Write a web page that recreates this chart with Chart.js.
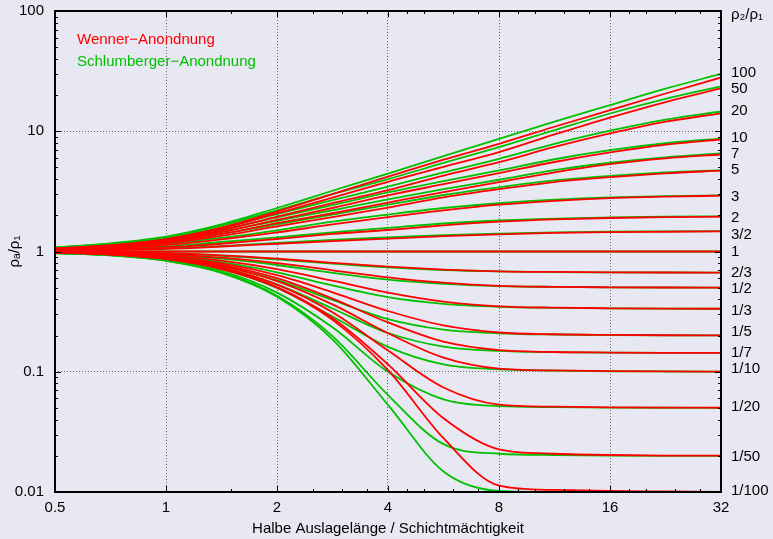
<!DOCTYPE html>
<html><head><meta charset="utf-8">
<script src="https://cdn.jsdelivr.net/npm/chart.js@4.4.0/dist/chart.umd.min.js"></script>
<style>html,body{margin:0;padding:0;background:#e8e8f2;}canvas{display:block;}</style>
</head><body>
<canvas id="c" width="773" height="539"></canvas>
<script>
// x sample positions (half spread / layer thickness)
const X = [0.5, 0.707, 1, 1.414, 2, 2.828, 4, 5.657, 8, 11.31, 16, 22.63, 32];

// Schlumberger (green) and Wenner (red) apparent resistivity ratios
const S100 = [1.08, 1.17, 1.33, 1.68, 2.3, 3.2, 4.45, 6.2, 8.65, 12.0, 16.5, 22.6, 30.0];
const W100 = [1.06, 1.13, 1.27, 1.58, 2.15, 3.0, 4.2, 5.8, 7.86, 10.9, 15.0, 20.6, 28.0];
const S50 = [1.075, 1.16, 1.31, 1.64, 2.2, 3.0, 4.0, 5.45, 7.37, 10.2, 14.05, 18.6, 23.6];
const W50 = [1.055, 1.12, 1.26, 1.55, 2.08, 2.8, 3.8, 5.05, 6.7, 9.4, 13.0, 17.5, 22.7];
const S20 = [1.07, 1.14, 1.28, 1.58, 2.05, 2.68, 3.46, 4.55, 5.9, 7.85, 10.1, 12.5, 14.6];
const W20 = [1.05, 1.11, 1.24, 1.5, 1.95, 2.52, 3.24, 4.28, 5.53, 7.4, 9.58, 12.0, 14.1];
const S10 = [1.065, 1.13, 1.25, 1.52, 1.92, 2.43, 3.1, 3.85, 4.72, 5.85, 6.96, 7.95, 8.7];
const W10 = [1.045, 1.10, 1.21, 1.45, 1.83, 2.3, 2.93, 3.63, 4.48, 5.55, 6.66, 7.75, 8.54];
const S7 = [1.06, 1.12, 1.23, 1.46, 1.8, 2.2, 2.71, 3.3, 3.95, 4.75, 5.47, 6.07, 6.53];
const W7 = [1.04, 1.09, 1.19, 1.4, 1.72, 2.08, 2.55, 3.12, 3.77, 4.55, 5.32, 5.95, 6.41];
const S5 = [1.055, 1.11, 1.21, 1.4, 1.68, 2.03, 2.45, 2.95, 3.42, 3.9, 4.25, 4.55, 4.75];
const W5 = [1.04, 1.08, 1.17, 1.35, 1.62, 1.93, 2.32, 2.82, 3.30, 3.78, 4.15, 4.47, 4.70];
const S3 = [1.04, 1.08, 1.16, 1.3, 1.5, 1.77, 2.03, 2.3, 2.52, 2.7, 2.82, 2.89, 2.93];
const W3 = [1.03, 1.06, 1.13, 1.26, 1.44, 1.68, 1.93, 2.2, 2.45, 2.64, 2.78, 2.86, 2.91];
const S2 = [1.025, 1.05, 1.1, 1.2, 1.31, 1.44, 1.57, 1.71, 1.81, 1.88, 1.92, 1.95, 1.96];
const W2 = [1.02, 1.04, 1.08, 1.16, 1.27, 1.4, 1.51, 1.65, 1.77, 1.85, 1.90, 1.93, 1.95];
const S3_2 = [1.015, 1.03, 1.06, 1.11, 1.18, 1.25, 1.31, 1.37, 1.41, 1.44, 1.46, 1.47, 1.48];
const W3_2 = [1.01, 1.025, 1.05, 1.1, 1.16, 1.22, 1.28, 1.34, 1.39, 1.43, 1.45, 1.46, 1.47];
const S1 = [1, 1, 1, 1, 1, 1, 1, 1, 1, 1, 1, 1, 1];
const W1 = [1, 1, 1, 1, 1, 1, 1, 1, 1, 1, 1, 1, 1];
const S2_3 = [0.99, 0.984, 0.962, 0.922, 0.86, 0.792, 0.737, 0.702, 0.684, 0.675, 0.671, 0.669, 0.668];
const W2_3 = [0.995, 0.987, 0.968, 0.93, 0.872, 0.805, 0.748, 0.708, 0.684, 0.676, 0.671, 0.669, 0.668];
const S1_2 = [0.987, 0.973, 0.938, 0.872, 0.772, 0.665, 0.584, 0.538, 0.516, 0.508, 0.504, 0.502, 0.501];
const W1_2 = [0.992, 0.978, 0.948, 0.89, 0.8, 0.698, 0.61, 0.55, 0.517, 0.508, 0.504, 0.502, 0.5015];
const S1_3 = [0.983, 0.962, 0.91, 0.815, 0.672, 0.522, 0.417, 0.367, 0.347, 0.34, 0.337, 0.335, 0.334];
const W1_3 = [0.988, 0.969, 0.925, 0.84, 0.715, 0.572, 0.455, 0.383, 0.35, 0.341, 0.337, 0.335, 0.334];
const S1_5 = [0.978, 0.951, 0.883, 0.76, 0.578, 0.395, 0.274, 0.224, 0.209, 0.204, 0.2022, 0.2011, 0.2005];
const W1_5 = [0.985, 0.959, 0.903, 0.796, 0.636, 0.458, 0.32, 0.243, 0.212, 0.205, 0.2025, 0.2012, 0.2006];
const S1_7 = [0.975, 0.945, 0.871, 0.733, 0.533, 0.336, 0.21, 0.162, 0.149, 0.1455, 0.1443, 0.1437, 0.1433];
const W1_7 = [0.983, 0.955, 0.892, 0.775, 0.6, 0.406, 0.257, 0.178, 0.151, 0.146, 0.1445, 0.1438, 0.1434];
const S1_10 = [0.973, 0.94, 0.86, 0.712, 0.498, 0.288, 0.161, 0.115, 0.1045, 0.1022, 0.101, 0.1005, 0.1002];
const W1_10 = [0.981, 0.951, 0.884, 0.757, 0.568, 0.363, 0.209, 0.131, 0.106, 0.1025, 0.1012, 0.1006, 0.1003];
const S1_20 = [0.97, 0.934, 0.848, 0.686, 0.455, 0.234, 0.1, 0.059, 0.0518, 0.0508, 0.0504, 0.0502, 0.0501];
const W1_20 = [0.98, 0.947, 0.873, 0.734, 0.53, 0.312, 0.15, 0.074, 0.0533, 0.0512, 0.0506, 0.0503, 0.0502];
const S1_50 = [0.968, 0.93, 0.84, 0.67, 0.428, 0.198, 0.064, 0.025, 0.0208, 0.0203, 0.0201, 0.02, 0.02];
const W1_50 = [0.978, 0.944, 0.867, 0.72, 0.507, 0.28, 0.115, 0.041, 0.0226, 0.0208, 0.0203, 0.0201, 0.0201];
const S1_100 = [0.966, 0.928, 0.836, 0.663, 0.42, 0.186, 0.053, 0.0148, 0.0102, 0.01, 0.01, 0.01, 0.01];
const W1_100 = [0.978, 0.942, 0.864, 0.715, 0.5, 0.27, 0.103, 0.028, 0.0113, 0.0104, 0.0102, 0.0101, 0.01];

const ratioNames = ['100','50','20','10','7','5','3','2','3/2','1','2/3','1/2','1/3','1/5','1/7','1/10','1/20','1/50','1/100'];
const schlumberger = [S100,S50,S20,S10,S7,S5,S3,S2,S3_2,S1,S2_3,S1_2,S1_3,S1_5,S1_7,S1_10,S1_20,S1_50,S1_100];
const wenner = [W100,W50,W20,W10,W7,W5,W3,W2,W3_2,W1,W2_3,W1_2,W1_3,W1_5,W1_7,W1_10,W1_20,W1_50,W1_100];

// axis ticks
const xTickValues = [0.5, 1, 2, 4, 8, 16, 32];
const xMinorValues = [1.5, 2.5, 3, 3.5, 4.5, 5, 6, 7, 9, 10, 12, 14, 18, 20, 24, 28];
const yTickValues = [0.01, 0.1, 1, 10, 100];
const yTickLabels = ['0.01', '0.1', '1', '10', '100'];
const yMinorValues = [];
[0.01, 0.1, 1, 10].forEach(d => { for (let m = 2; m <= 9; m++) yMinorValues.push(d * m); });
// right-hand ratio labels and the values they sit at
const rightLabels = ['ρ₂/ρ₁','100','50','20','10','7','5','3','2','3/2','1','2/3','1/2','1/3','1/5','1/7','1/10','1/20','1/50','1/100'];
const rightLabelAt = [92.6, 30.5, 22.5, 14.7, 8.79, 6.47, 4.76, 2.84, 1.90, 1.37, 1.0, 0.663, 0.488, 0.32, 0.214, 0.143, 0.105, 0.0509, 0.0195, 0.0102];

const legendTexts = ['Wenner−Anondnung', 'Schlumberger−Anondnung'];
const RED = '#ff0000', GREEN = '#00c000';
const FONT = '"Liberation Sans", Arial, Helvetica, sans-serif';

const datasets = [];
ratioNames.forEach((r, i) => {
  datasets.push({ label: 'Schlumberger ' + r, data: X.map((x, j) => ({ x: x, y: schlumberger[i][j] })), borderColor: GREEN, order: 2 });
  datasets.push({ label: 'Wenner ' + r, data: X.map((x, j) => ({ x: x, y: wenner[i][j] })), borderColor: RED, order: 1 });
});

const frameTicks = {
  id: 'frameTicks',
  afterDatasetsDraw(chart) {
    const { ctx, chartArea: a, scales } = chart;
    const sx = scales.x, sy = scales.y;
    ctx.save();
    ctx.strokeStyle = '#000';
    ctx.lineWidth = 1;
    ctx.beginPath();
    const vt = (v, len) => { const p = Math.round(sx.getPixelForValue(v)) + 0.5; ctx.moveTo(p, a.bottom); ctx.lineTo(p, a.bottom - len); ctx.moveTo(p, a.top); ctx.lineTo(p, a.top + len); };
    const ht = (v, len) => { const p = Math.round(sy.getPixelForValue(v)) + 0.5; ctx.moveTo(a.left, p); ctx.lineTo(a.left + len, p); ctx.moveTo(a.right, p); ctx.lineTo(a.right - len, p); };
    xTickValues.forEach(v => vt(v, 6));
    xMinorValues.forEach(v => vt(v, 3));
    yTickValues.forEach(v => ht(v, 6));
    yMinorValues.forEach(v => ht(v, 3));
    ctx.stroke();
    ctx.lineWidth = 2;
    ctx.strokeRect(a.left, a.top, a.right - a.left, a.bottom - a.top);
    ctx.font = '15px ' + FONT;
    ctx.textBaseline = 'middle';
    ctx.textAlign = 'left';
    ctx.fillStyle = RED;
    ctx.fillText(legendTexts[0], 77, 40);
    ctx.fillStyle = GREEN;
    ctx.fillText(legendTexts[1], 77, 62);
    ctx.restore();
  }
};

const gridColor = c => (c.tick && (c.tick.value === xTickValues[0] || c.tick.value === xTickValues[xTickValues.length - 1] || c.tick.value === yTickValues[0] || c.tick.value === yTickValues[yTickValues.length - 1])) ? 'rgba(0,0,0,0)' : '#666';
const fitV = w => s => { s.width = w; s.paddingTop = 0; s.paddingBottom = 0; };

new Chart(document.getElementById('c'), {
  type: 'line',
  data: { datasets: datasets },
  options: {
    responsive: false, animation: false, devicePixelRatio: 1,
    layout: { padding: { top: 11, left: 0, right: 0, bottom: 0 } },
    plugins: { legend: { display: false }, tooltip: { enabled: false } },
    elements: { point: { radius: 0 }, line: { borderWidth: 1.8, cubicInterpolationMode: 'monotone', fill: false } },
    scales: {
      x: {
        type: 'logarithmic', position: 'bottom', min: 0.5, max: 32,
        afterBuildTicks: s => { s.ticks = xTickValues.map(v => ({ value: v })); },
        afterFit: s => { s.height = 47; s.paddingLeft = 0; s.paddingRight = 0; },
        ticks: { callback: v => String(v), font: { family: FONT, size: 15 }, color: '#000', padding: 7, maxRotation: 0, autoSkip: false },
        grid: { color: gridColor, lineWidth: 1, drawTicks: false },
        border: { display: false, dash: [1, 2] },
        title: { display: true, text: 'Halbe Auslagelänge / Schichtmächtigkeit', font: { family: FONT, size: 15 }, color: '#000', padding: { top: 0, bottom: 1 } }
      },
      y: {
        type: 'logarithmic', position: 'left', min: 0.01, max: 100,
        afterBuildTicks: s => { s.ticks = yTickValues.map(v => ({ value: v })); },
        afterFit: fitV(55),
        ticks: { callback: (v, i) => yTickLabels[i], font: { family: FONT, size: 15 }, color: '#000', padding: 11, autoSkip: false },
        grid: { color: gridColor, lineWidth: 1, drawTicks: false },
        border: { display: false, dash: [1, 2] },
        title: { display: true, text: 'ρₐ/ρ₁', font: { family: FONT, size: 15 }, color: '#000', padding: { top: 6, bottom: 0 } }
      },
      y2: {
        type: 'logarithmic', position: 'right', min: 0.01, max: 100,
        afterBuildTicks: s => { s.ticks = rightLabelAt.map(v => ({ value: v })); },
        afterFit: fitV(52),
        ticks: { callback: (v, i) => rightLabels[i], font: { family: FONT, size: 15 }, color: '#000', padding: 10, autoSkip: false },
        grid: { display: false, drawTicks: false },
        border: { display: false }
      }
    }
  },
  plugins: [frameTicks]
});
</script>
</body></html>
